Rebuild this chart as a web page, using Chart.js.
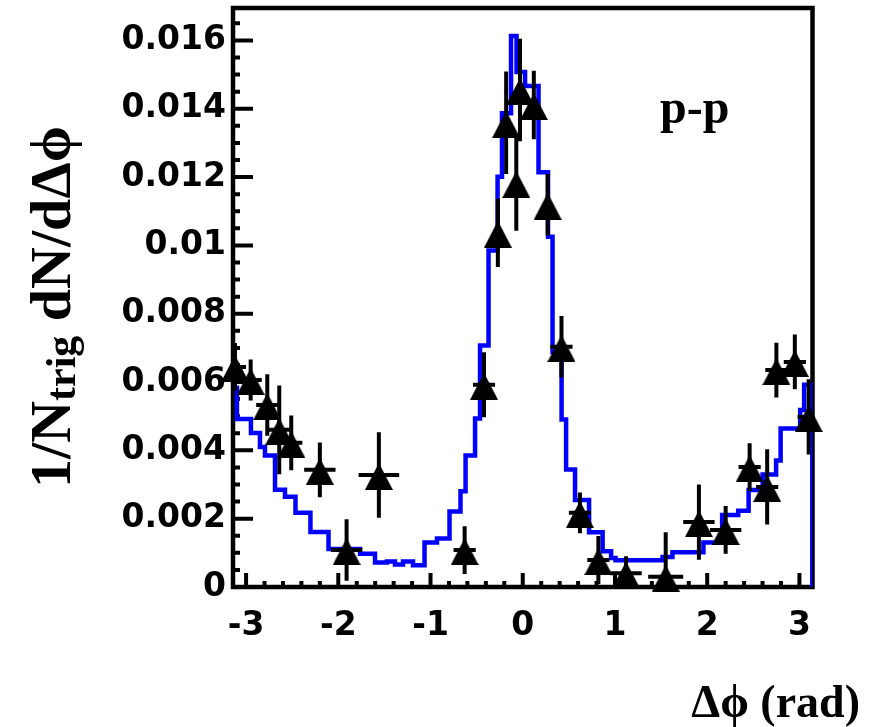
<!DOCTYPE html>
<html>
<head>
<meta charset="UTF-8">
<title>p-p dN/dDphi</title>
<script src="https://cdn.jsdelivr.net/npm/chart.js"></script>
<style>
  html, body { margin: 0; background: #fff; }
</style>
</head>
<body>
<canvas id="c" width="878" height="727"></canvas>
<script>
  // blue histogram: left edge of each step (rad) and its level
  const histEdges = [-3.1416,-3.099,-2.947,-2.849,-2.795,-2.686,-2.578,-2.464,-2.302,-2.106,
    -1.764,-1.602,-1.472,-1.385,-1.298,-1.190,-1.065,-0.930,-0.794,-0.675,
    -0.620,-0.517,-0.463,-0.371,-0.273,-0.225,-0.127,-0.067,0.025,0.171,
    0.274,0.323,0.421,0.470,0.567,0.719,0.866,0.958,1.006,1.516,
    1.623,1.959,2.162,2.336,2.449,2.601,2.747,2.796,3.008,3.051];
  const histVals = [0.00583,0.00492,0.00451,0.00410,0.00385,0.00285,0.00264,0.00217,0.00161,0.00111,
    0.00097,0.00072,0.00075,0.00066,0.00075,0.00064,0.00130,0.00142,0.00221,0.00280,
    0.00385,0.00493,0.00707,0.00985,0.01201,0.01387,0.01613,0.01508,0.01467,0.01214,
    0.01025,0.00688,0.00490,0.00344,0.00255,0.00160,0.00105,0.00085,0.00078,0.00088,
    0.00102,0.00130,0.00211,0.00223,0.00284,0.00329,0.00370,0.00464,0.00518,0.00592];

  // p-p data points (triangles) with errors
  const ptX  = [-3.12,-2.95,-2.77,-2.64,-2.51,-2.20,-1.91,-1.56,-0.63,-0.42,-0.27,-0.18,-0.07,-0.03,
                 0.12,0.27,0.42,0.62,0.82,1.12,1.55,1.91,2.20,2.46,2.65,2.75,2.95,3.10];
  const ptY  = [0.00644,0.00606,0.00533,0.00460,0.00422,0.00343,0.00108,0.00328,0.00108,0.00592,0.01037,0.01359,0.01183,0.01455,
                0.01411,0.01119,0.00703,0.00217,0.00079,0.00040,0.00030,0.00190,0.00167,0.00351,0.00293,0.00635,0.00659,0.00498];
  const ptEy = [0.0007,0.0006,0.0009,0.0013,0.0008,0.0008,0.0009,0.00125,0.0007,0.00095,0.0010,0.0015,0.0014,0.0015,
                0.0010,0.0009,0.0009,0.0006,0.0007,0.0005,0.0013,0.0011,0.0007,0.0007,0.0011,0.0008,0.0008,0.0011];
  const ptEx = [0.12,0.12,0.12,0.12,0.12,0.17,0.17,0.22,0.12,0.12,0.05,0.05,0.05,0.05,
                0.05,0.05,0.12,0.12,0.12,0.17,0.19,0.17,0.17,0.12,0.12,0.12,0.12,0.12];

  const Y_MAX = 0.01695;

  const histPoints = histEdges.map((x, i) => ({ x, y: histVals[i] }));
  histPoints.push({ x: Math.PI, y: histVals[histVals.length - 1] });
  histPoints.push({ x: Math.PI, y: 0 });

  // ROOT-like triangle marker
  const tri = document.createElement('canvas');
  tri.width = 28; tri.height = 30;
  const tc = tri.getContext('2d');
  tc.fillStyle = '#000';
  tc.beginPath(); tc.moveTo(14, 3); tc.lineTo(28, 30); tc.lineTo(0, 30); tc.closePath(); tc.fill();

  const frameTicks = {
    id: 'frameTicks',
    beforeDatasetsDraw(chart) {
      const { ctx, chartArea: a, scales: { x, y } } = chart;
      ctx.save();
      ctx.strokeStyle = '#000';
      ctx.lineWidth = 4;
      ctx.beginPath();
      for (let i = 0; i * 0.0005 <= y.max; i++) {
        const py = y.getPixelForValue(i * 0.0005);
        ctx.moveTo(a.left, py);
        ctx.lineTo(a.left + (i % 4 === 0 ? 20 : 7), py);
      }
      for (let i = -16; i <= 16; i++) {
        const v = i * 0.2;
        if (v < x.min || v > x.max) continue;
        const px = x.getPixelForValue(v);
        ctx.moveTo(px, a.bottom);
        ctx.lineTo(px, a.bottom - (i % 5 === 0 ? 14 : 6));
      }
      ctx.stroke();
      ctx.lineWidth = 4.5;
      ctx.strokeRect(a.left, a.top, a.right - a.left, a.bottom - a.top);
      ctx.restore();
    },
    beforeDatasetDraw(chart, args) {
      if (args.index !== 0) return;
      const { ctx, scales: { x, y } } = chart;
      ctx.save();
      ctx.strokeStyle = '#000';
      ctx.lineWidth = 4;
      ctx.beginPath();
      ptX.forEach((vx, i) => {
        const px = x.getPixelForValue(vx), py = y.getPixelForValue(ptY[i]);
        const lo = y.getPixelForValue(Math.max(0, ptY[i] - ptEy[i]));
        const hi = y.getPixelForValue(ptY[i] + ptEy[i]);
        ctx.moveTo(px, lo); ctx.lineTo(px, hi);
        ctx.moveTo(x.getPixelForValue(Math.max(x.min, vx - ptEx[i])), py);
        ctx.lineTo(x.getPixelForValue(Math.min(x.max, vx + ptEx[i])), py);
      });
      ctx.stroke();
      ctx.restore();
    },
    afterDraw(chart) {
      const ctx = chart.ctx;
      ctx.save();
      ctx.fillStyle = '#000';
      ctx.textBaseline = 'alphabetic';
      // p-p
      ctx.font = "bold 48px 'Liberation Serif'";
      ctx.textAlign = 'left';
      ctx.fillText('p-p', 660, 123);
      // x title
      ctx.font = "bold 46px 'Liberation Serif', 'DejaVu Serif'";
      ctx.textAlign = 'right';
      ctx.fillText('\u0394\u03d5 (rad)', 860, 717);
      // y title, rotated, with subscript
      const big = "bold 58px 'Liberation Serif', 'DejaVu Serif'", small = "bold 42px 'Liberation Serif'";
      const parts = [['1/N', big, 0], ['trig', small, 5], [' dN/d\u0394\u03d5', big, 0]];
      let total = 0;
      parts.forEach(p => { ctx.font = p[1]; total += ctx.measureText(p[0]).width; });
      ctx.translate(70, 307);
      ctx.rotate(-Math.PI / 2);
      ctx.textAlign = 'left';
      let pos = -total / 2;
      parts.forEach(p => {
        ctx.font = p[1];
        ctx.fillText(p[0], pos, p[2]);
        pos += ctx.measureText(p[0]).width;
      });
      ctx.restore();
    }
  };

  const tickFont = { family: 'DejaVu Sans', weight: 'bold', size: 33 };

  new Chart(document.getElementById('c'), {
    type: 'scatter',
    data: {
      datasets: [
        {
          label: 'p-p data',
          data: ptX.map((x, i) => ({ x, y: ptY[i] })),
          pointStyle: tri,
          pointRadius: 14,
          clip: false
        },
        {
          label: 'histogram',
          type: 'line',
          data: histPoints,
          stepped: 'before',
          borderColor: '#0000ff',
          borderWidth: 4.5,
          pointRadius: 0,
          fill: false,
          borderJoinStyle: 'miter'
        }
      ]
    },
    plugins: [frameTicks],
    options: {
      responsive: false,
      devicePixelRatio: 1,
      animation: false,
      layout: { autoPadding: false, padding: { left: 0, right: 65.5, top: 8, bottom: 0 } },
      plugins: { legend: { display: false }, tooltip: { enabled: false } },
      scales: {
        x: {
          type: 'linear',
          min: -Math.PI, max: Math.PI,
          grid: { display: false, drawTicks: false },
          border: { display: false },
          ticks: { stepSize: 1, includeBounds: false, color: '#000', font: tickFont, padding: 20, maxRotation: 0 },
          afterFit(s) { s.height = 140; s.paddingLeft = 0; s.paddingRight = 0; }
        },
        y: {
          min: 0, max: Y_MAX,
          grid: { display: false, drawTicks: false },
          border: { display: false },
          ticks: { stepSize: 0.002, includeBounds: false, color: '#000', font: tickFont, padding: 7,
                   callback: v => String(+v.toFixed(4)) },
          afterFit(s) { s.width = 233; s.paddingTop = 0; s.paddingBottom = 0; }
        }
      }
    }
  });
</script>
</body>
</html>
